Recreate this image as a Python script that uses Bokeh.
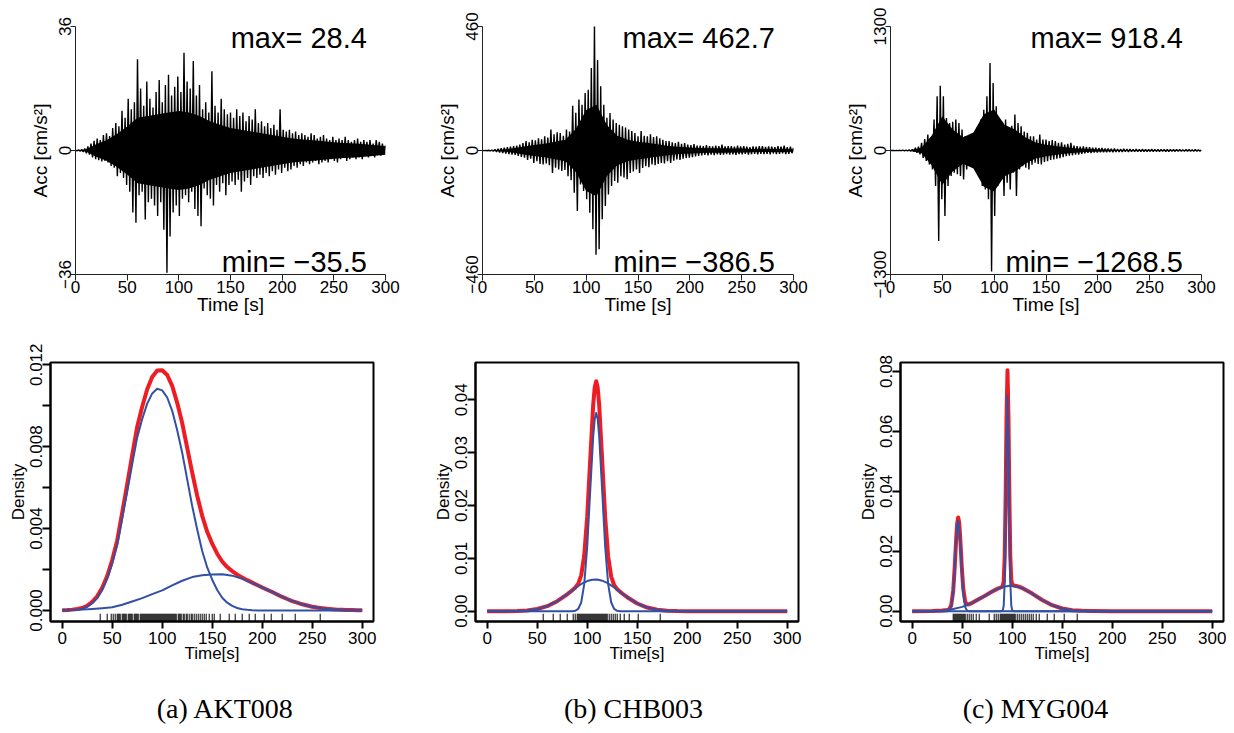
from bokeh.plotting import figure
from bokeh.layouts import column, row
from bokeh.models import Range1d, FixedTicker, Label
from bokeh.embed import file_html
from bokeh.resources import INLINE
from bokeh.core.properties import value

# ---------------- data ----------------
station_captions = ["(a) AKT008", "(b) CHB003", "(c) MYG004"]
time_ticks = [0, 50, 100, 150, 200, 250, 300]
wave_step = 3.0  # s between successive upper-envelope readings

# upper / lower peak readings of the accelerograms (cm/s^2)
akt_upper = [0.1, 0.2, 0.3, 0.6, 1.2, 2.0, 2.8, 3.5, 3.0, 4.5,
             5.0, 4.2, 6.5, 8.0, 7.0, 11.5, 9.5, 15.0, 12.0, 14.0,
             26.5, 18.0, 13.0, 20.0, 15.0, 12.5, 17.0, 20.5, 14.0, 19.0,
             22.0, 16.0, 18.5, 21.5, 17.0, 28.4, 20.0, 18.0, 26.0, 16.0,
             19.0, 12.0, 14.0, 11.0, 23.0, 13.0, 11.0, 15.0, 12.0, 10.5,
             11.0, 9.5, 12.0, 10.0, 11.0, 8.5, 10.0, 9.0, 12.0, 8.0,
             8.5, 7.0, 8.0, 6.5, 7.5, 6.0, 12.0, 6.0, 5.5, 6.0,
             5.0, 5.5, 4.5, 5.0, 4.5, 4.0, 5.0, 4.5, 3.5, 4.0,
             4.5, 3.5, 3.0, 4.0, 3.0, 3.5, 3.0, 4.0, 3.0, 2.5,
             3.0, 3.5, 2.5, 3.0, 2.5, 3.0, 2.0, 3.0, 2.5, 2.0,
             1.5]
akt_lower = [-0.1, -0.2, -0.4, -0.8, -1.2, -2.0, -2.5, -2.8, -3.2, -3.0,
             -3.5, -4.5, -5.0, -7.5, -6.5, -8.0, -10.0, -12.0, -18.0, -21.0,
             -13.0, -12.0, -20.0, -15.0, -14.0, -16.0, -19.0, -15.0, -23.0, -35.5,
             -25.0, -18.0, -16.0, -19.0, -14.0, -13.0, -15.0, -12.0, -17.0, -19.0,
             -22.0, -11.0, -13.0, -14.0, -16.0, -10.0, -12.0, -9.5, -13.0, -10.0,
             -9.0, -10.0, -8.5, -12.0, -9.0, -8.0, -10.0, -7.5, -8.0, -7.0,
             -8.0, -6.5, -7.5, -6.0, -7.0, -5.5, -6.5, -5.0, -6.0, -5.5,
             -4.5, -5.0, -4.0, -4.5, -3.5, -4.0, -3.5, -3.0, -4.0, -3.5,
             -3.0, -3.5, -2.5, -3.0, -3.5, -2.5, -2.0, -3.0, -2.5, -2.0,
             -2.5, -2.0, -2.5, -1.5, -2.0, -1.5, -2.0, -1.0, -1.5, -0.8]

chb_upper = [0.0, 0.5, 1.0, 2.0, 4.0, 6.0, 8.0, 10.0, 12.0, 14.0,
             16.0, 18.0, 22.0, 28.0, 35.0, 30.0, 40.0, 38.0, 45.0, 42.0,
             53.0, 48.0, 78.0, 60.0, 68.0, 65.0, 55.0, 78.0, 70.0, 166.0,
             140.0, 189.0, 170.0, 213.0, 225.0, 306.0, 462.7, 336.0, 238.0, 170.0,
             121.0, 139.0, 115.0, 102.0, 95.0, 90.0, 85.0, 78.0, 72.0, 65.0,
             53.0, 72.0, 55.0, 53.0, 60.0, 50.0, 53.0, 45.0, 40.0, 35.0,
             35.0, 30.0, 28.0, 32.0, 25.0, 28.0, 22.0, 20.0, 24.0, 18.0,
             18.0, 16.0, 20.0, 16.0, 15.0, 18.0, 16.0, 22.0, 15.0, 16.0,
             16.0, 14.0, 18.0, 15.0, 16.0, 14.0, 12.0, 15.0, 14.0, 16.0,
             16.0, 13.0, 15.0, 14.0, 12.0, 16.0, 14.0, 18.0, 12.0, 14.0,
             10.0]
chb_lower = [-0.5, -1.0, -2.0, -3.0, -5.0, -7.0, -9.0, -11.0, -13.0, -15.0,
             -16.0, -20.0, -24.0, -27.0, -35.0, -30.0, -46.0, -40.0, -50.0, -52.0,
             -48.0, -55.0, -83.0, -64.0, -70.0, -76.0, -72.0, -95.0, -110.0, -157.0,
             -224.0, -126.0, -150.0, -181.0, -231.0, -292.0, -386.5, -366.0, -255.0, -206.0,
             -163.0, -132.0, -113.0, -120.0, -95.0, -100.0, -107.0, -83.0, -78.0, -70.0,
             -83.0, -65.0, -58.0, -62.0, -52.0, -55.0, -50.0, -46.0, -48.0, -40.0,
             -46.0, -38.0, -33.0, -35.0, -30.0, -28.0, -27.0, -25.0, -22.0, -20.0,
             -18.0, -16.0, -18.0, -15.0, -17.0, -14.0, -16.0, -15.0, -13.0, -15.0,
             -14.0, -16.0, -13.0, -14.0, -12.0, -15.0, -13.0, -12.0, -14.0, -12.0,
             -13.0, -12.0, -14.0, -11.0, -13.0, -12.0, -11.0, -13.0, -12.0, -10.0]

myg_upper = [0.0, 0.0, 1.0, 2.0, 3.0, 5.0, 8.0, 12.0, 28.0, 40.0,
             80.0, 120.0, 167.0, 115.0, 324.0, 568.0, 680.0, 568.0, 341.0, 289.0,
             300.0, 324.0, 289.0, 220.0, 150.0, 130.0, 115.0, 185.0, 250.0, 324.0,
             428.0, 568.0, 918.4, 707.0, 463.0, 254.0, 300.0, 324.0, 220.0, 260.0,
             376.0, 289.0, 254.0, 200.0, 185.0, 150.0, 150.0, 115.0, 167.0, 115.0,
             115.0, 98.0, 110.0, 98.0, 80.0, 85.0, 63.0, 70.0, 80.0, 50.0,
             45.0, 40.0, 42.0, 38.0, 35.0, 30.0, 28.0, 25.0, 26.0, 21.0,
             21.0, 18.0, 20.0, 16.0, 15.0, 17.0, 14.0, 15.0, 13.0, 14.0,
             12.0, 14.0, 12.0, 11.0, 13.0, 12.0, 10.0, 12.0, 11.0, 10.0,
             11.0, 10.0, 12.0, 10.0, 9.0, 11.0, 10.0, 9.0, 10.0, 9.0,
             8.0]
myg_lower = [0.0, -1.0, -1.0, -2.0, -3.0, -5.0, -8.0, -12.0, -24.0, -40.0,
             -77.0, -110.0, -146.0, -200.0, -373.0, -948.0, -512.0, -686.0, -373.0, -268.0,
             -233.0, -250.0, -268.0, -303.0, -198.0, -150.0, -129.0, -164.0, -268.0, -373.0,
             -408.0, -512.0, -1268.5, -686.0, -373.0, -268.0, -477.0, -338.0, -408.0, -233.0,
             -477.0, -198.0, -164.0, -180.0, -198.0, -150.0, -129.0, -140.0, -146.0, -120.0,
             -111.0, -100.0, -94.0, -85.0, -80.0, -70.0, -59.0, -55.0, -50.0, -42.0,
             -42.0, -35.0, -30.0, -24.0, -26.0, -22.0, -20.0, -18.0, -19.0, -17.0,
             -16.0, -17.0, -15.0, -14.0, -15.0, -13.0, -14.0, -12.0, -13.0, -12.0,
             -12.0, -11.0, -12.0, -10.0, -11.0, -10.0, -11.0, -9.0, -10.0, -10.0,
             -9.0, -10.0, -9.0, -8.0, -9.0, -8.0, -9.0, -8.0, -7.0, -8.0]

# half-height of the solid black core of each trace, read every 10 s
core_t = [0, 10, 20, 30, 40, 50, 60, 70, 80, 90, 100, 110, 120, 130, 140, 150, 160, 170,
          180, 190, 200, 210, 220, 230, 240, 250, 260, 270, 280, 290, 300]
akt_core = [0.0, 0.3, 1.8, 3.0, 4.8, 7.0, 9.5, 10.0, 10.5, 11.0, 11.5, 11.0, 10.0, 8.5,
            7.5, 6.5, 6.0, 5.5, 5.0, 4.5, 4.0, 3.5, 3.2, 3.0, 2.7, 2.4, 2.2, 2.0, 1.8,
            1.5, 1.2]
chb_core = [0.0, 1.0, 4.0, 8.0, 15.0, 20.0, 25.0, 32.0, 40.0, 80.0, 150.0, 170.0, 95.0,
            55.0, 40.0, 32.0, 28.0, 22.0, 17.0, 13.0, 11.0, 9.0, 8.0, 8.0, 7.0, 7.0, 6.0,
            6.0, 6.0, 6.0, 5.0]
myg_core = [0.0, 0.0, 5.0, 30.0, 160.0, 360.0, 220.0, 140.0, 190.0, 380.0, 430.0, 270.0,
            220.0, 140.0, 85.0, 60.0, 45.0, 32.0, 22.0, 15.0, 10.0, 8.0, 6.0, 5.0, 5.0,
            4.0, 4.0, 4.0, 3.0, 3.0, 3.0]

wave_limits = [36, 460, 1300]
wave_max_text = ["max= 28.4", "max= 462.7", "max= 918.4"]
wave_min_text = ["min= \u221235.5", "min= \u2212386.5", "min= \u22121268.5"]

# ---- mixture densities ----
akt_mix_t = [0, 5, 10, 15, 20, 25, 30, 35, 40, 45, 50, 55, 60, 65, 70, 75, 80, 85, 90, 95,
             100, 105, 110, 115, 120, 125, 130, 135, 140, 145, 150, 155, 160, 165, 170, 175,
             180, 185, 190, 195, 200, 205, 210, 215, 220, 225, 230, 235, 240, 245, 250, 255,
             260, 265, 270, 275, 280, 285, 290, 295, 300]
akt_mix = [0.00001, 0.00002, 0.00004, 0.00007, 0.00012, 0.00023, 0.00042, 0.00069, 0.00111,
           0.00168, 0.00246, 0.00342, 0.00478, 0.00616, 0.00759, 0.00897, 0.00995, 0.01080,
           0.01140, 0.01172, 0.01173, 0.01150, 0.01097, 0.01014, 0.00915, 0.00794, 0.00673,
           0.00560, 0.00462, 0.00384, 0.00326, 0.00277, 0.00239, 0.00212, 0.00192, 0.00175,
           0.00161, 0.00148, 0.00136, 0.00124, 0.00112, 0.00101, 0.00090, 0.00078, 0.00066,
           0.00056, 0.00046, 0.00038, 0.00030, 0.00024, 0.00018, 0.00014, 0.00011, 0.00008,
           0.00006, 0.00004, 0.00003, 0.00002, 0.00002, 0.00001, 0.00001]
akt_c1_t = [0, 5, 10, 15, 20, 25, 30, 35, 40, 45, 50, 55, 60, 65, 70, 75, 80, 85, 90, 95,
            100, 105, 110, 115, 120, 125, 130, 135, 140, 145, 150, 155, 160, 165, 170, 175,
            180, 185, 190, 195, 200, 250, 300]
akt_c1 = [0.0, 0.00001, 0.00002, 0.00004, 0.00008, 0.00018, 0.00035, 0.00060, 0.00100,
          0.00155, 0.00230, 0.00320, 0.00450, 0.00580, 0.00715, 0.00845, 0.00935, 0.01010,
          0.01060, 0.01083, 0.01075, 0.01040, 0.00975, 0.00880, 0.00770, 0.00640, 0.00510,
          0.00395, 0.00290, 0.00210, 0.00150, 0.00100, 0.00062, 0.00038, 0.00022, 0.00012,
          0.00006, 0.00003, 0.00001, 0.0, 0.0, 0.0, 0.0]
akt_c2_t = [0, 10, 20, 30, 40, 50, 60, 70, 80, 90, 100, 110, 120, 130, 140, 150, 160, 170,
            180, 190, 200, 210, 220, 230, 240, 250, 260, 270, 280, 290, 300]
akt_c2 = [0.00001, 0.00002, 0.00004, 0.00007, 0.00011, 0.00016, 0.00028, 0.00044, 0.00060,
          0.00080, 0.00098, 0.00122, 0.00145, 0.00163, 0.00172, 0.00176, 0.00177, 0.00170,
          0.00155, 0.00135, 0.00112, 0.00090, 0.00066, 0.00046, 0.00030, 0.00018, 0.00011,
          0.00006, 0.00003, 0.00002, 0.00001]

chb_mix_t = [0, 20, 30, 40, 50, 60, 70, 80, 85, 88, 91, 94, 97, 100, 103, 106, 107.5, 109,
             110.5, 112, 115, 118, 121, 124, 127, 130, 135, 140, 150, 160, 170, 180, 190,
             200, 250, 300]
chb_mix = [0.0, 0.00001, 0.00005, 0.00015, 0.00041, 0.00095, 0.00189, 0.00320, 0.00394,
           0.00444, 0.00518, 0.00678, 0.01052, 0.01788, 0.02862, 0.03907, 0.04235, 0.04350,
           0.04232, 0.03901, 0.02851, 0.01772, 0.01031, 0.00654, 0.00491, 0.00415, 0.00335,
           0.00265, 0.00146, 0.00069, 0.00028, 0.00010, 0.00003, 0.00001, 0.0, 0.0]
chb_c1_t = [0, 80, 85, 88, 91, 94, 97, 100, 103, 106, 107.5, 109, 110.5, 112, 115, 118, 121,
            124, 127, 130, 133, 140, 300]
chb_c1 = [0.0, 0.0, 0.00001, 0.00008, 0.00042, 0.00165, 0.00507, 0.01218, 0.02274, 0.03309,
          0.03635, 0.03750, 0.03635, 0.03309, 0.02274, 0.01218, 0.00507, 0.00165, 0.00042,
          0.00008, 0.00001, 0.0, 0.0]
chb_c2_t = [0, 20, 30, 40, 50, 60, 70, 80, 85, 90, 95, 100, 105, 110, 115, 120, 125, 130,
            140, 150, 160, 170, 180, 190, 200, 250, 300]
chb_c2 = [0.0, 0.00001, 0.00005, 0.00015, 0.00041, 0.00095, 0.00189, 0.00320, 0.00393,
          0.00463, 0.00524, 0.00570, 0.00596, 0.00598, 0.00577, 0.00535, 0.00476, 0.00407,
          0.00265, 0.00146, 0.00069, 0.00028, 0.00010, 0.00003, 0.00001, 0.0, 0.0]

myg_mix_t = [0, 20, 30, 35, 37, 39, 41, 42.5, 44, 45, 46, 47, 48, 49.5, 51, 53, 55, 57, 60,
             70, 80, 85, 89, 90.5, 91.5, 92.5, 93.5, 94.3, 95.3, 96.3, 97.1, 98.1, 99.1,
             100.1, 101.6, 105, 110, 120, 130, 140, 150, 160, 170, 180, 200, 250, 300]
myg_mix = [0.00001, 0.00009, 0.00026, 0.00043, 0.00067, 0.00193, 0.00684, 0.01464, 0.02432,
           0.02933, 0.03128, 0.02949, 0.02466, 0.01523, 0.00770, 0.00313, 0.00222, 0.00234,
           0.00279, 0.00462, 0.00659, 0.00744, 0.00799, 0.00835, 0.01006, 0.01806, 0.03986,
           0.06418, 0.08041, 0.06427, 0.04003, 0.01833, 0.01041, 0.00879, 0.00855, 0.00833,
           0.00774, 0.00587, 0.00373, 0.00200, 0.00090, 0.00034, 0.00011, 0.00003, 0.0, 0.0,
           0.0]
myg_c1_t = [0, 35, 37, 39, 41, 42.5, 44, 45, 46, 47, 48, 49.5, 51, 53, 55, 57, 300]
myg_c1 = [0.0, 0.00001, 0.00017, 0.00133, 0.00613, 0.01383, 0.02340, 0.02833, 0.03020,
          0.02833, 0.02340, 0.01383, 0.00613, 0.00133, 0.00017, 0.00001, 0.0]
myg_c2_t = [0, 89, 90.5, 91.5, 92.5, 93.5, 94.3, 95.3, 96.3, 97.1, 98.1, 99.1, 100.1, 101.6, 300]
myg_c2 = [0.0, 0.0, 0.00020, 0.00181, 0.00973, 0.03145, 0.05572, 0.07190, 0.05572, 0.03145,
          0.00973, 0.00181, 0.00020, 0.0, 0.0]
myg_c3_t = [0, 20, 30, 40, 50, 60, 70, 80, 90, 99, 110, 120, 130, 140, 150, 160, 170, 180,
            200, 250, 300]
myg_c3 = [0.00001, 0.00009, 0.00026, 0.00066, 0.00145, 0.00279, 0.00462, 0.00659, 0.00810,
          0.00860, 0.00774, 0.00587, 0.00373, 0.00200, 0.00090, 0.00034, 0.00011, 0.00003,
          0.0, 0.0, 0.0]

# rug of observation times
akt_rug = [38, 45, 49, 51, 53, 55, 56, 57, 58, 60, 61, 62, 63, 64, 66, 67, 68, 69, 70, 72,
           73, 74, 75, 76, 78, 79, 80, 81, 82, 83, 84, 85, 86, 87, 88, 89, 90, 91, 92, 93,
           94, 95, 96, 97, 98, 99, 100, 101, 102, 103, 104, 105, 106, 107, 108, 109, 110,
           111, 112, 113, 114, 116, 117, 118, 119, 121, 122, 124, 125, 127, 129, 130, 132,
           134, 136, 138, 140, 142, 144, 147, 150, 152, 158, 167, 173, 180, 187, 193, 202,
           209, 220, 233, 258]
chb_rug = [56, 66, 73, 80, 86, 88, 90, 91, 92, 93, 94, 95, 96, 97, 98, 99, 100, 101, 102,
           103, 104, 105, 106, 107, 108, 109, 110, 111, 112, 113, 114, 115, 116, 117, 118,
           119, 120, 122, 124, 126, 128, 130, 133, 137, 142, 151, 173]
myg_rug = [41, 42, 43, 44, 45, 46, 47, 48, 49, 50, 51, 52, 53, 55, 57, 59, 61, 64, 67, 77,
           82, 84, 86, 88, 89, 90, 91, 92, 93, 94, 95, 96, 97, 98, 99, 100, 101, 102, 103,
           105, 107, 109, 111, 113, 115, 117, 119, 121, 124, 127, 135, 142, 152, 165]

akt_dens_ticks = [0, 0.002, 0.004, 0.006, 0.008, 0.01, 0.012]
akt_dens_labels = ["0.000", "", "0.004", "", "0.008", "", "0.012"]
chb_dens_ticks = [0, 0.01, 0.02, 0.03, 0.04]
chb_dens_labels = ["0.00", "0.01", "0.02", "0.03", "0.04"]
myg_dens_ticks = [0, 0.02, 0.04, 0.06, 0.08]
myg_dens_labels = ["0.00", "0.02", "0.04", "0.06", "0.08"]

# ---------------- styling ----------------
FONT = "Liberation Sans"
RED = "#EE1D24"
BLUE = "#3250A4"
FS = "17px"


def style_axis(ax, label_size=FS):
    ax.major_label_text_font = FONT
    ax.major_label_text_font_size = FS
    ax.major_label_text_color = "black"
    ax.axis_label_text_font = FONT
    ax.axis_label_text_font_size = label_size
    ax.axis_label_text_font_style = "normal"
    ax.axis_label_text_color = "black"
    ax.minor_tick_line_color = None
    ax.major_tick_in = 0


def top_panel(upper, lower, core, lim, max_text, min_text, w, bl, br):
    p = figure(width=w, height=322, output_backend="svg", toolbar_location=None,
               x_range=Range1d(0, 300), y_range=Range1d(-lim, lim),
               min_border_left=bl, min_border_right=br,
               min_border_top=26, min_border_bottom=48)
    p.outline_line_color = None
    p.grid.visible = False
    # solid core of the trace
    p.varea(x=core_t, y1=core, y2=[-c for c in core], fill_color="black")
    # the oscillating trace through its successive peaks
    xs, ys = [], []
    for i, u in enumerate(upper):
        xs.append(i * wave_step)
        ys.append(u)
        if i < len(lower):
            xs.append(i * wave_step + wave_step / 2)
            ys.append(lower[i])
    p.line(xs, ys, line_color="black", line_width=1.4)

    style_axis(p.xaxis[0], "19px")
    style_axis(p.yaxis[0], "19px")
    p.xaxis.ticker = FixedTicker(ticks=time_ticks)
    p.xaxis.axis_label = "Time [s]"
    p.xaxis.major_tick_out = 6
    p.xaxis.major_label_standoff = 0
    p.xaxis.axis_label_standoff = -2
    p.xaxis.axis_line_color = "#222222"
    p.xaxis.major_tick_line_color = "#222222"

    p.yaxis.ticker = FixedTicker(ticks=[-lim, 0, lim])
    p.yaxis.major_label_overrides = {-lim: "\u2212" + str(lim), 0: "0", lim: str(lim)}
    p.yaxis.major_label_orientation = "vertical"
    p.yaxis.axis_label = "Acc [cm/s\u00b2]"
    p.yaxis.major_tick_out = 5
    p.yaxis.major_label_standoff = 0
    p.yaxis.axis_label_standoff = 5
    p.yaxis.axis_line_color = "#222222"
    p.yaxis.major_tick_line_color = "#222222"

    p.add_layout(Label(x=282, y=lim * 0.911, text=max_text, text_align="right",
                       text_baseline="middle", text_font=FONT, text_font_size="29px",
                       text_color="black"))
    p.add_layout(Label(x=282, y=-lim * 0.903, text=min_text, text_align="right",
                       text_baseline="middle", text_font=FONT, text_font_size="29px",
                       text_color="black"))
    return p


def bottom_panel(mix_t, mix, comps, yr, ticks, labels, rug, w, bl, br):
    p = figure(width=w, height=346, output_backend="svg", toolbar_location=None,
               x_range=Range1d(-11.7, 311.3), y_range=Range1d(*yr),
               min_border_left=bl, min_border_right=br,
               min_border_top=40, min_border_bottom=47)
    p.outline_line_color = "black"
    p.outline_line_width = 2
    p.grid.visible = False

    p.line(mix_t, mix, line_color=RED, line_width=4, line_join="round")
    for ct, cv in comps:
        p.line(ct, cv, line_color=BLUE, line_width=2, line_join="round")

    y0 = yr[0]
    y1 = yr[0] + 0.03 * (yr[1] - yr[0])
    p.segment(x0=rug, y0=[y0] * len(rug), x1=rug, y1=[y1] * len(rug),
              line_color="black", line_width=1)

    style_axis(p.xaxis[0])
    style_axis(p.yaxis[0])
    for ax in (p.xaxis[0], p.yaxis[0]):
        ax.axis_line_width = 2
        ax.major_tick_line_width = 2
    p.xaxis.ticker = FixedTicker(ticks=time_ticks)
    p.xaxis.axis_label = "Time[s]"
    p.xaxis.major_tick_out = 7
    p.xaxis.major_label_standoff = 3
    p.xaxis.axis_label_standoff = -3

    p.yaxis.ticker = FixedTicker(ticks=ticks)
    p.yaxis.major_label_overrides = {t: l for t, l in zip(ticks, labels)}
    p.yaxis.major_label_orientation = "vertical"
    p.yaxis.axis_label = "Density"
    p.yaxis.major_tick_out = 8
    p.yaxis.major_label_standoff = 0
    p.yaxis.axis_label_standoff = 0
    return p


t1 = top_panel(akt_upper, akt_lower, akt_core, wave_limits[0], wave_max_text[0], wave_min_text[0], 414, 75, 29)
t2 = top_panel(chb_upper, chb_lower, chb_core, wave_limits[1], wave_max_text[1], wave_min_text[1], 406, 68, 27)
t3 = top_panel(myg_upper, myg_lower, myg_core, wave_limits[2], wave_max_text[2], wave_min_text[2], 406, 70, 25)

b1 = bottom_panel(akt_mix_t, akt_mix, [(akt_c1_t, akt_c1), (akt_c2_t, akt_c2)],
                  (-0.00054, 0.01211), akt_dens_ticks, akt_dens_labels, akt_rug, 414, 50, 41)
b2 = bottom_panel(chb_mix_t, chb_mix, [(chb_c1_t, chb_c1), (chb_c2_t, chb_c2)],
                  (-0.00195, 0.04706), chb_dens_ticks, chb_dens_labels, chb_rug, 406, 61, 22)
b3 = bottom_panel(myg_mix_t, myg_mix,
                  [(myg_c1_t, myg_c1), (myg_c2_t, myg_c2), (myg_c3_t, myg_c3)],
                  (-0.00344, 0.0830), myg_dens_ticks, myg_dens_labels, myg_rug, 406, 80, 3)

cap = figure(width=1226, height=60, output_backend="svg", toolbar_location=None,
             x_range=Range1d(0, 1226), y_range=Range1d(0, 60),
             x_axis_location=None, y_axis_location=None, min_border=0)
cap.outline_line_color = None
cap.grid.visible = False
cap.text(x=[225, 633, 1035], y=[20, 20, 20], text=station_captions,
         text_font=value("Liberation Serif"), text_font_size="28px",
         text_align="center", text_baseline="middle", text_color="black")

layout = column(row(t1, t2, t3), row(b1, b2, b3), cap)

with open("out.html", "w") as f:
    f.write(file_html(layout, INLINE))
